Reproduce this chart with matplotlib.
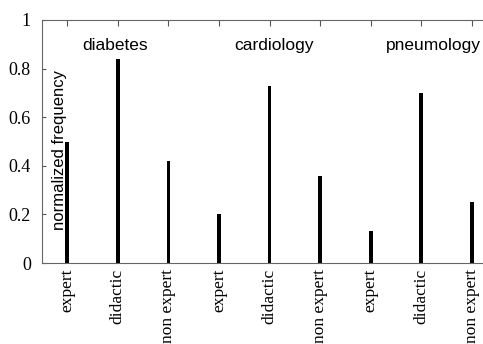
import numpy as np
import matplotlib.pyplot as plt

groups = ["diabetes", "cardiology", "pneumology"]
styles = ["expert", "didactic", "non expert"]
freq = [0.50, 0.84, 0.42,
        0.20, 0.73, 0.36,
        0.13, 0.70, 0.25]
labels = styles * len(groups)

serif = "Liberation Serif"
sans = "Liberation Sans"

fig = plt.figure(figsize=(4.83, 3.44), dpi=100)
ax = fig.add_axes([42 / 483, 1 - 263 / 344, 1 - 42 / 483, 243 / 344])

x = np.arange(len(freq))
ax.bar(x, freq, width=0.075, color="black")

ax.set_xlim(-0.5, 8.22)
ax.set_ylim(0, 1)

ax.set_xticks(x)
ax.set_xticklabels(labels, rotation=90, fontsize=12.5, family=serif, va="top")
ax.set_yticks(np.arange(0, 1.01, 0.2))
ax.set_yticklabels(["0", "0.2", "0.4", "0.6", "0.8", "1"], fontsize=13, family=serif)
ax.tick_params(axis="x", which="both", bottom=False, top=True, direction="in",
               length=4, width=0.8, color="#555555", pad=4)
ax.tick_params(axis="y", left=True, direction="in", length=3, width=0.8,
               color="#555555", pad=8)

for side in ["left", "bottom", "top"]:
    ax.spines[side].set_color("#666666")
    ax.spines[side].set_linewidth(0.8)
ax.spines["right"].set_visible(False)

# group names above each block of three bars
for i, g in enumerate(groups):
    ax.text(3 * i + 0.3, 0.897, g, ha="left", va="center", fontsize=12.5, family=sans)

ax.text(-0.16, 0.465, "normalized frequency", rotation=90, ha="center", va="center",
        fontsize=12, family=sans)

fig.savefig("out.png", dpi=100)
